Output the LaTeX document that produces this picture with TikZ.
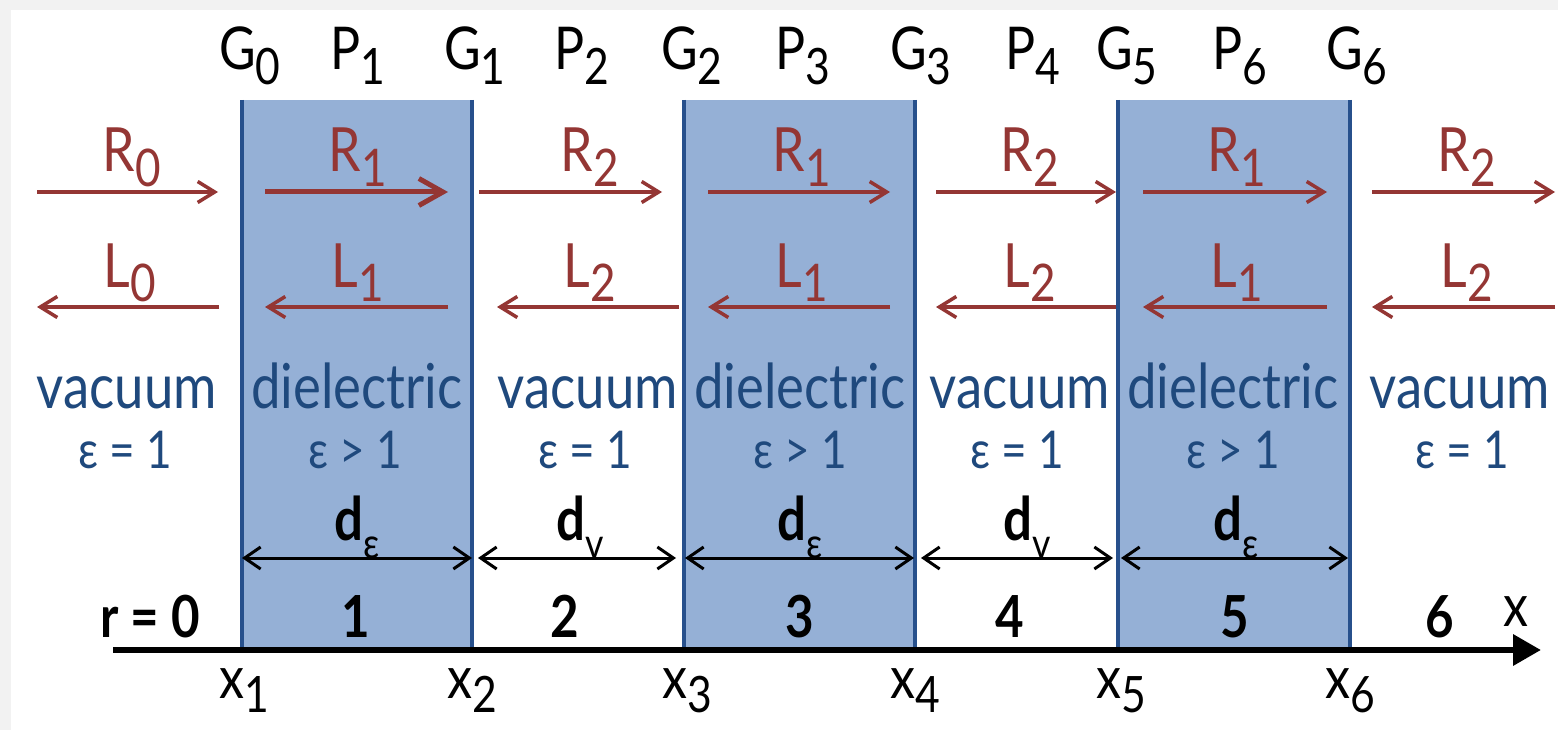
\documentclass[tikz,border=0pt]{standalone}
\usepackage{fontspec}
\setmainfont[FakeStretch=0.85]{Lato}
\usetikzlibrary{arrows.meta}
\definecolor{bgray}{HTML}{F2F2F2}
\definecolor{slabfill}{HTML}{95B0D6}
\definecolor{slabedge}{HTML}{27508C}
\definecolor{wred}{HTML}{943634}
\definecolor{tblue}{HTML}{1F497D}
\newcommand\lowsub[2][0.85]{\raisebox{-0.24em}{\scalebox{#1}{#2}}}
\newcommand\dsub[1]{\raisebox{-0.3em}{\scalebox{0.7}{\mdseries #1}}}
\begin{document}
\begin{tikzpicture}[x=1pt,y=-1pt,
  lbl/.style={inner sep=0pt, anchor=base},
  toplbl/.style={lbl, font=\fontsize{59}{61}\selectfont},
  wavelbl/.style={lbl, text=wred, font=\fontsize{61}{63}\selectfont},
  medlbl/.style={lbl, text=tblue, font=\fontsize{62}{64}\selectfont},
  epslbl/.style={lbl, text=tblue, font=\fontsize{52}{54}\selectfont},
  dlbl/.style={lbl, font=\bfseries\fontsize{60}{62}\selectfont},
  numlbl/.style={lbl, font=\bfseries\fontsize{58}{60}\selectfont},
  poslbl/.style={lbl, font=\fontsize{59}{61}\selectfont},
  wave/.style={wred, line width=3.5pt, -{Straight Barb[length=17pt,width=21pt,line width=3.5pt]}},
  wavebig/.style={wred, line width=5pt, -{Straight Barb[length=24pt,width=27pt,line width=5pt]}},
  dim/.style={black, line width=3pt, {Straight Barb[length=16pt,width=22pt,line width=3pt]}-{Straight Barb[length=16pt,width=22pt,line width=3pt]}},
  slab/.style={fill=slabfill, draw=none},
  slabline/.style={slabedge, line width=4.5pt},
  axis/.style={black, line width=6.5pt, -{Triangle[length=28pt,width=30pt]}}
]
\useasboundingbox (0,0) rectangle (1558,730);
\fill[bgray] (0,0) rectangle (1558,730);
\fill[white] (11,10) rectangle (1558,730);

% slabs
\foreach \a/\b in {242/472, 684/915, 1118/1350}{
  \fill[slab] (\a,100) rectangle (\b,650);
  \draw[slabline] (\a,100) -- (\a,650);
  \draw[slabline] (\b,100) -- (\b,650);
}

% top labels
\node[toplbl] (G0) at (250,70) {G\lowsub{0}};
\node[toplbl] (P1) at (358,70) {P\lowsub{1}};
\node[toplbl] (G1) at (475,70) {G\lowsub{1}};
\node[toplbl] (P2) at (582,70) {P\lowsub{2}};
\node[toplbl] (G2) at (692,70) {G\lowsub{2}};
\node[toplbl] (P3) at (803,70) {P\lowsub{3}};
\node[toplbl] (G3) at (921,70) {G\lowsub{3}};
\node[toplbl] (P4) at (1033,70) {P\lowsub{4}};
\node[toplbl] (G5) at (1127,70) {G\lowsub{5}};
\node[toplbl] (P6) at (1240,70) {P\lowsub{6}};
\node[toplbl] (G6) at (1357,70) {G\lowsub{6}};

% wave arrows
\foreach \i/\ra/\rb/\la/\lb in {0/37/218/37/219, 1/265/448/265/448, 2/479/662/497/679, 3/708/890/708/890, 4/936/1116/936/1116, 5/1143/1327/1143/1327, 6/1372/1555/1372/1555}{
  \coordinate (Ra\i) at (\ra,192);
  \coordinate (Rb\i) at (\rb,192);
  \coordinate (La\i) at (\la,307);
  \coordinate (Lb\i) at (\lb,307);
}
\draw[wave] (Ra0) -- (Rb0);
\draw[wavebig] (Ra1) -- (Rb1);
\foreach \i in {2,...,6}{\draw[wave] (Ra\i) -- (Rb\i);}
\foreach \i in {0,...,6}{\draw[wave] (Lb\i) -- (La\i);}

\node[wavelbl] (R0) at (132,172) {R\lowsub{0}};
\node[wavelbl] (R1a) at (358,172) {R\lowsub{1}};
\node[wavelbl] (R2a) at (590,172) {R\lowsub{2}};
\node[wavelbl] (R1b) at (802,172) {R\lowsub{1}};
\node[wavelbl] (R2b) at (1030,172) {R\lowsub{2}};
\node[wavelbl] (R1c) at (1237,172) {R\lowsub{1}};
\node[wavelbl] (R2c) at (1467,172) {R\lowsub{2}};

\node[wavelbl] (L0) at (130,287) {L\lowsub{0}};
\node[wavelbl] (L1a) at (358,287) {L\lowsub{1}};
\node[wavelbl] (L2a) at (590,287) {L\lowsub{2}};
\node[wavelbl] (L1b) at (802,287) {L\lowsub{1}};
\node[wavelbl] (L2b) at (1030,287) {L\lowsub{2}};
\node[wavelbl] (L1c) at (1237,287) {L\lowsub{1}};
\node[wavelbl] (L2c) at (1467,287) {L\lowsub{2}};

% media
\node[medlbl] (m0) at (127,408) {vacuum};
\node[medlbl] (m1) at (357,408) {dielectric};
\node[medlbl] (m2) at (588,408) {vacuum};
\node[medlbl] (m3) at (800,408) {dielectric};
\node[medlbl] (m4) at (1020,408) {vacuum};
\node[medlbl] (m5) at (1233,408) {dielectric};
\node[medlbl] (m6) at (1460,408) {vacuum};
\node[epslbl] (e0) at (125,468) {ε = 1};
\node[epslbl] (e1) at (355,468) {ε > 1};
\node[epslbl] (e2) at (585,468) {ε = 1};
\node[epslbl] (e3) at (800,468) {ε > 1};
\node[epslbl] (e4) at (1017,468) {ε = 1};
\node[epslbl] (e5) at (1233,468) {ε > 1};
\node[epslbl] (e6) at (1462,468) {ε = 1};

% dimensions
\foreach \i/\a/\b in {1/242/472, 2/478/676, 3/685/914, 4/921/1113, 5/1121/1348}{
  \coordinate (Da\i) at (\a,558);
  \coordinate (Db\i) at (\b,558);
  \draw[dim] (Da\i) -- (Db\i);
}
\node[dlbl] (d1) at (357,540) {d\dsub{ε}};
\node[dlbl] (d2) at (580,540) {d\dsub{v}};
\node[dlbl] (d3) at (800,540) {d\dsub{ε}};
\node[dlbl] (d4) at (1027,540) {d\dsub{v}};
\node[dlbl] (d5) at (1236,540) {d\dsub{ε}};

% axis
\coordinate (A0) at (113,650);
\coordinate (A1) at (1541,650);
\draw[axis] (A0) -- (A1);
\node[poslbl] (xax) at (1516,626) {x};

% region numbers
\node[numlbl] (n0) at (150,637) {r = 0};
\node[numlbl] (n1) at (356,637) {1};
\node[numlbl] (n2) at (565,637) {2};
\node[numlbl] (n3) at (800,637) {3};
\node[numlbl] (n4) at (1010,637) {4};
\node[numlbl] (n5) at (1235,637) {5};
\node[numlbl] (n6) at (1440,637) {6};

% positions
\node[poslbl] (x1) at (244,698) {x\lowsub{1}};
\node[poslbl] (x2) at (472,698) {x\lowsub{2}};
\node[poslbl] (x3) at (687,698) {x\lowsub{3}};
\node[poslbl] (x4) at (915,698) {x\lowsub{4}};
\node[poslbl] (x5) at (1121,698) {x\lowsub{5}};
\node[poslbl] (x6) at (1350,698) {x\lowsub{6}};
\end{tikzpicture}
\end{document}
